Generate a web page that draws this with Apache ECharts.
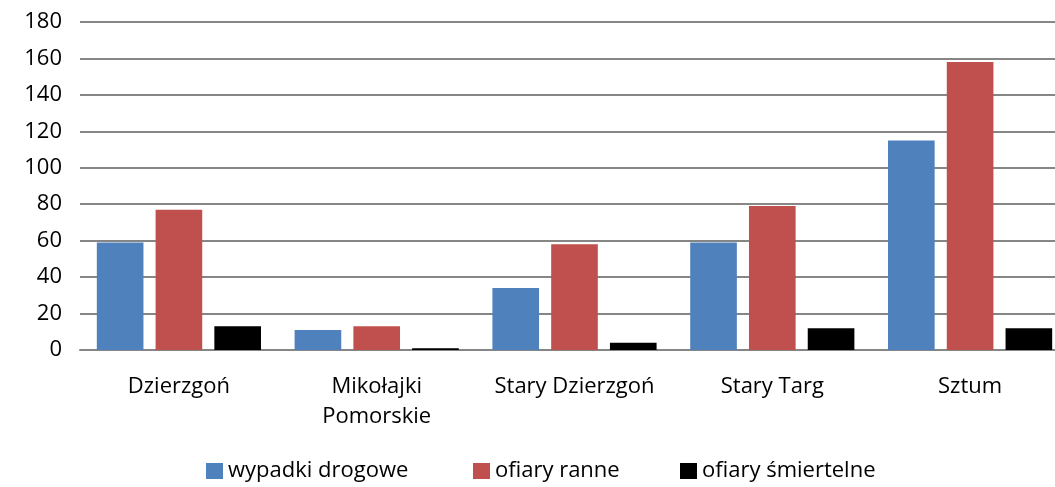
<!DOCTYPE html>
<html>
<head>
<meta charset="utf-8">
<script src="https://cdn.jsdelivr.net/npm/echarts@6/dist/echarts.min.js"></script>
<style>html,body{margin:0;padding:0;background:#fff}#c{width:1055px;height:487px}</style>
</head>
<body>
<div id="c"></div>
<script>
const categories = ['Dzierzgoń', 'Mikołajki\nPomorskie', 'Stary Dzierzgoń', 'Stary Targ', 'Sztum'];
const seriesNames = ['wypadki drogowe', 'ofiary ranne', 'ofiary śmiertelne'];
const wypadki = [59, 11, 34, 59, 115];
const ranne = [77, 13, 58, 79, 158];
const smiertelne = [13, 1, 4, 12, 12];
const colors = ['#4F81BD', '#C0504D', '#000000'];

const font = '"Open Sans", sans-serif';
const legendLefts = [206, 473, 680];
const chart = echarts.init(document.getElementById('c'));
chart.setOption({
  animation: false,
  color: colors,
  textStyle: { fontFamily: font },
  grid: { left: 80, width: 989, top: 22, bottom: 137, outerBoundsMode: 'none', containLabel: false },
  legend: seriesNames.map((n, i) => ({
    top: 460,
    left: legendLefts[i],
    itemWidth: 17,
    itemHeight: 16,
    icon: 'rect',
    padding: 0,
    textStyle: { fontSize: 22, color: '#000', fontFamily: font },
    data: [n]
  })),
  xAxis: {
    type: 'category',
    data: categories,
    axisTick: { show: false },
    axisLine: { lineStyle: { color: '#868686', width: 2 } },
    axisLabel: { fontSize: 22, color: '#000', margin: 22, lineHeight: 30, fontFamily: font, interval: 0 }
  },
  yAxis: {
    type: 'value',
    min: 0, max: 180, interval: 20,
    axisLine: { show: false },
    axisTick: { show: false },
    splitLine: { lineStyle: { color: '#868686', width: 2 } },
    axisLabel: { fontSize: 22, color: '#000', margin: 18, fontFamily: font }
  },
  series: [
    { name: seriesNames[0], type: 'bar', data: wypadki, barGap: '26%', barCategoryGap: '17%' },
    { name: seriesNames[1], type: 'bar', data: ranne, barGap: '26%', barCategoryGap: '17%' },
    { name: seriesNames[2], type: 'bar', data: smiertelne, barGap: '26%', barCategoryGap: '17%' }
  ]
});
</script>
</body>
</html>
